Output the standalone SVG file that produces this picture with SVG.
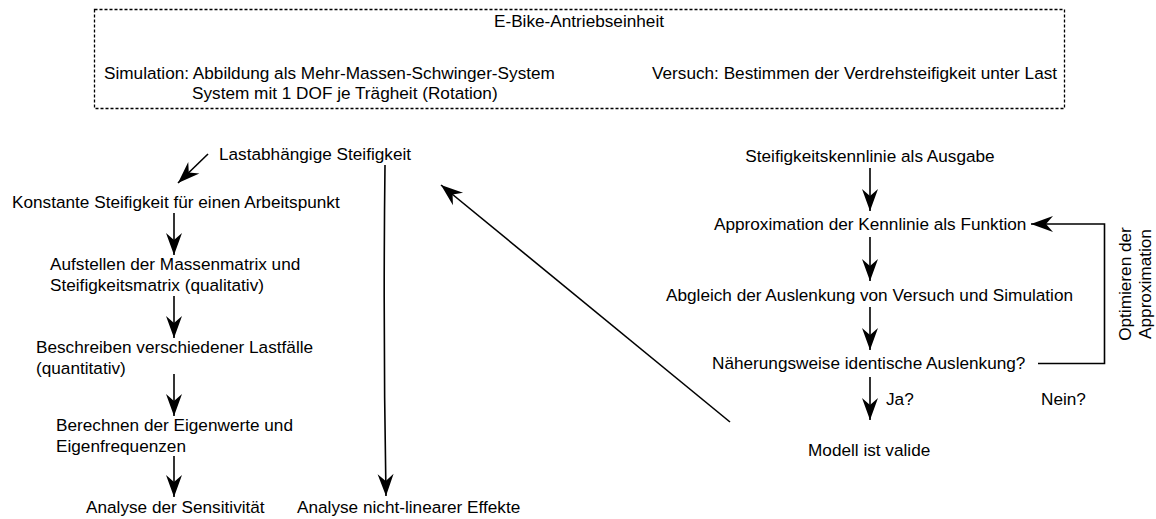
<svg xmlns="http://www.w3.org/2000/svg" width="1156" height="519" viewBox="0 0 1156 519">
<style>
text{font-family:"Liberation Sans",Arial,sans-serif;font-size:17.2px;fill:#000}
.c{stroke:#000;stroke-width:1.6;fill:none}
.m{text-anchor:middle}
</style>
<defs>
<marker id="ah" markerUnits="userSpaceOnUse" markerWidth="26" markerHeight="20" viewBox="-24 -10 26 20" refX="0" refY="0" orient="auto">
<path d="M0,0 L-22,-8 L-15,0 L-22,8 Z" fill="#000"/>
</marker>
</defs>
<rect width="1156" height="519" fill="#fff"/>
<g id="header">
<rect x="94.5" y="9.5" width="970" height="99" fill="none" stroke="#000" stroke-width="1.3" stroke-dasharray="3 2"/>
<text class="m" x="579" y="27">E-Bike-Antriebseinheit</text>
<text x="104" y="79">Simulation: Abbildung als Mehr-Massen-Schwinger-System</text>
<text x="192" y="99">System mit 1 DOF je Trägheit (Rotation)</text>
<text x="652" y="79">Versuch: Bestimmen der Verdrehsteifigkeit unter Last</text>
</g>
<g id="n_last"><text x="219" y="160">Lastabhängige Steifigkeit</text></g>
<g id="n_konst"><text x="12" y="208">Konstante Steifigkeit für einen Arbeitspunkt</text></g>
<g id="n_aufst"><text x="50" y="270">Aufstellen der Massenmatrix und</text><text x="50" y="291">Steifigkeitsmatrix (qualitativ)</text></g>
<g id="n_beschr"><text x="36" y="353">Beschreiben verschiedener Lastfälle</text><text x="36" y="374">(quantitativ)</text></g>
<g id="n_berech"><text x="56" y="431">Berechnen der Eigenwerte und</text><text x="56" y="452">Eigenfrequenzen</text></g>
<g id="n_sens"><text x="86" y="513">Analyse der Sensitivität</text></g>
<g id="n_nonlin"><text x="297" y="513">Analyse nicht-linearer Effekte</text></g>
<g id="n_kennl"><text class="m" x="870" y="162">Steifigkeitskennlinie als Ausgabe</text></g>
<g id="n_approx"><text x="714" y="230">Approximation der Kennlinie als Funktion</text></g>
<g id="n_abgl"><text x="666" y="301">Abgleich der Auslenkung von Versuch und Simulation</text></g>
<g id="n_naeh"><text x="712" y="369">Näherungsweise identische Auslenkung?</text></g>
<g id="n_valid"><text x="808" y="456">Modell ist valide</text></g>
<g id="labels">
<text x="886" y="405">Ja?</text>
<text x="1041" y="405">Nein?</text>
<text class="m" transform="translate(1131,284) rotate(-90)">Optimieren der</text>
<text class="m" transform="translate(1151,284) rotate(-90)">Approximation</text>
</g>
<g id="connectors">
<path class="c" d="M208,154 L178,183" marker-end="url(#ah)"/>
<path class="c" d="M174,213 L174,255" marker-end="url(#ah)"/>
<path class="c" d="M174,296 L174,338" marker-end="url(#ah)"/>
<path class="c" d="M174,374 L174,416" marker-end="url(#ah)"/>
<path class="c" d="M174,456 L174,497" marker-end="url(#ah)"/>
<path class="c" d="M385,165 Q383,330 386,496" marker-end="url(#ah)"/>
<path class="c" d="M730,422 L441,185" marker-end="url(#ah)"/>
<path class="c" d="M870,168 L870,211" marker-end="url(#ah)"/>
<path class="c" d="M870,237 L870,281" marker-end="url(#ah)"/>
<path class="c" d="M870,307 L870,350" marker-end="url(#ah)"/>
<path class="c" d="M870,377 L870,420" marker-end="url(#ah)"/>
<path class="c" d="M1038,363.5 L1104.5,363.5 L1104.5,224 L1031,224" marker-end="url(#ah)"/>
</g>
</svg>
